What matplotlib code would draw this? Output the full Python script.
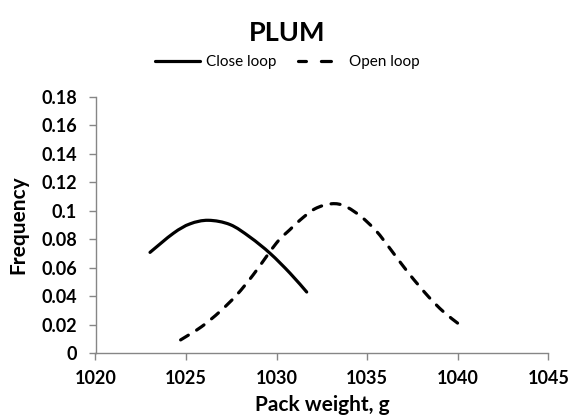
import matplotlib
matplotlib.use("Agg")
import matplotlib.pyplot as plt
from matplotlib.path import Path
from matplotlib.patches import PathPatch
from matplotlib.lines import Line2D

plt.rcParams['font.family'] = ['Lato', 'DejaVu Sans']
plt.rcParams['lines.scale_dashes'] = False

# Data
close_x = [1023.01, 1024.30, 1025.22, 1026.23, 1027.43, 1028.53, 1029.64, 1030.74, 1031.66]
close_y = [0.0708, 0.0842, 0.0908, 0.0933, 0.0903, 0.0815, 0.0701, 0.0562, 0.0430]
open_x = [1024.70, 1025.86, 1026.87, 1027.80, 1028.71, 1030.00, 1030.74, 1031.30,
          1032.12, 1033.04, 1033.78, 1034.65, 1035.50, 1036.30, 1037.30, 1038.40,
          1039.20, 1040.00]
open_y = [0.0094, 0.0187, 0.0293, 0.0410, 0.0551, 0.0775, 0.0868, 0.0935,
          0.1014, 0.1049, 0.1032, 0.0960, 0.0858, 0.0728, 0.0560, 0.0395,
          0.0293, 0.0211]
series_names = ["Close loop", "Open loop"]
x_ticks = [1020, 1025, 1030, 1035, 1040, 1045]
y_ticks = [0, 0.02, 0.04, 0.06, 0.08, 0.1, 0.12, 0.14, 0.16, 0.18]
y_tick_labels = ["0", "0.02", "0.04", "0.06", "0.08", "0.1", "0.12", "0.14", "0.16", "0.18"]


def smooth_path(xs, ys):
    pts = list(zip(xs, ys))
    n = len(pts)
    verts = [pts[0]]
    codes = [Path.MOVETO]
    for i in range(n - 1):
        p0 = pts[i - 1] if i > 0 else pts[i]
        p1 = pts[i]
        p2 = pts[i + 1]
        p3 = pts[i + 2] if i + 2 < n else pts[i + 1]
        c1 = (p1[0] + (p2[0] - p0[0]) / 6.0, p1[1] + (p2[1] - p0[1]) / 6.0)
        c2 = (p2[0] - (p3[0] - p1[0]) / 6.0, p2[1] - (p3[1] - p1[1]) / 6.0)
        verts += [c1, c2, p2]
        codes += [Path.CURVE4] * 3
    return Path(verts, codes)


fig = plt.figure(figsize=(5.74, 4.20), dpi=100)
ax = fig.add_axes([95.5 / 574, 1 - 353.3 / 420, (548.3 - 95.5) / 574, (353.3 - 96.7) / 420])

lw = 2.3
dash = (0, (6.5, 7.0))
p1 = PathPatch(smooth_path(close_x, close_y), fill=False, edgecolor='black',
               linewidth=lw, capstyle='round', joinstyle='round')
p2 = PathPatch(smooth_path(open_x, open_y), fill=False, edgecolor='black',
               linewidth=lw, linestyle=dash, capstyle='round', joinstyle='round')
ax.add_patch(p1)
ax.add_patch(p2)

ax.set_xlim(1020, 1045)
ax.set_ylim(0, 0.18)
ax.set_xticks(x_ticks)
ax.set_xticklabels([str(v) for v in x_ticks])
ax.set_yticks(y_ticks)
ax.set_yticklabels(y_tick_labels)

gray = '#868686'
for s in ['top', 'right']:
    ax.spines[s].set_visible(False)
for s in ['left', 'bottom']:
    ax.spines[s].set_color(gray)
    ax.spines[s].set_linewidth(1.0)
ax.tick_params(axis='both', colors=gray, length=5, width=1.0, direction='out')
ax.tick_params(axis='both', labelcolor='black', labelsize=13)
for lab in ax.get_xticklabels() + ax.get_yticklabels():
    lab.set_fontweight('bold')
ax.tick_params(axis='x', pad=7)
ax.tick_params(axis='y', pad=8.5)

ax.set_xlabel("Pack weight, g", fontsize=15, fontweight='bold', labelpad=6)
ax.set_ylabel("Frequency", fontsize=15, fontweight='bold', labelpad=9)

fig.text(0.5, 1 - 33 / 420, "PLUM", ha='center', va='center', fontsize=19.5, fontweight='bold')

handles = [Line2D([], [], color='black', lw=lw, solid_capstyle='round'),
           Line2D([], [], color='black', lw=lw, linestyle=(1.5, (7.2, 10.8)),
                  dash_capstyle='round')]
fig.legend(handles, series_names, loc='center', bbox_to_anchor=(0.5, 1 - 62 / 420),
           ncol=2, frameon=False, fontsize=11, handlelength=2.95, handletextpad=0.4,
           columnspacing=1.4)

fig.savefig("out.png", dpi=100)
